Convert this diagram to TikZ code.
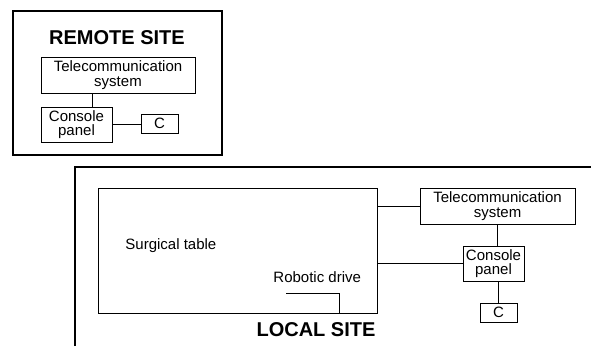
\documentclass[tikz,border=0pt]{standalone}
\usepackage{fontspec}
\setmainfont{Liberation Sans}
\begin{document}
\begin{tikzpicture}[x=1pt,y=-1pt,line width=0.9pt,
  box/.style={draw,inner sep=0pt,align=center,font=\fontsize{15}{14.5}\selectfont},
  lbl/.style={inner sep=0pt,font=\fontsize{15}{14.5}\selectfont},
  title/.style={inner sep=0pt,font=\fontsize{20}{20}\selectfont\bfseries},
  frame/.style={draw,line width=1.1pt}]
\useasboundingbox (0,0) rectangle (591,346);
% remote site
\node[frame,minimum width=209pt,minimum height=144pt,inner sep=0pt] (rframe) at (117.5,83) {};
\node[title] (rtitle) at (117,38) {REMOTE SITE};
\node[box,minimum width=154pt,minimum height=36pt] (rtele) at (118,75) {Telecommunication\\system};
\node[box,minimum width=71pt,minimum height=35pt] (rcons) at (76.5,124.5) {Console\\panel};
\node[box,minimum width=37pt,minimum height=19pt] (rc) at (159.5,123.5) {C};
\draw ([xshift=15.5pt]rcons.north) -- ([xshift=15.5pt]rcons.north |- rtele.south);
\draw (rcons.east) -- (rcons.east -| rc.west);
% local site
\coordinate (lf1) at (75,346);
\coordinate (lf2) at (75,167);
\coordinate (lf3) at (591,167);
\draw[line width=1.1pt] (lf1) -- (lf2) -- (lf3);
\node[box,minimum width=279pt,minimum height=125pt] (table) at (237.5,250.5) {};
\node[lbl,anchor=west] (stl) at (125,246) {Surgical table};
\node[lbl,anchor=west] (rdl) at (273,277) {Robotic drive};
\coordinate (rdA) at (286,293);
\coordinate (rdB) at (339,313);
\draw (rdA) -| (rdB);
\node[title] (ltitle) at (316,330) {LOCAL SITE};
\node[box,minimum width=155pt,minimum height=36pt] (ltele) at (497.5,206) {Telecommunication\\system};
\node[box,minimum width=61pt,minimum height=35pt] (lcons) at (493.5,263.5) {Console\\panel};
\node[box,minimum width=37pt,minimum height=19pt] (lc) at (498.5,312.5) {C};
\draw (table.east |- ltele.west) -- (ltele.west);
\draw (table.east |- lcons.west) -- (lcons.west);
\draw (ltele.south) -- (ltele.south |- lcons.north);
\draw (lc.north) -- (lc.north |- lcons.south);
\end{tikzpicture}
\end{document}
